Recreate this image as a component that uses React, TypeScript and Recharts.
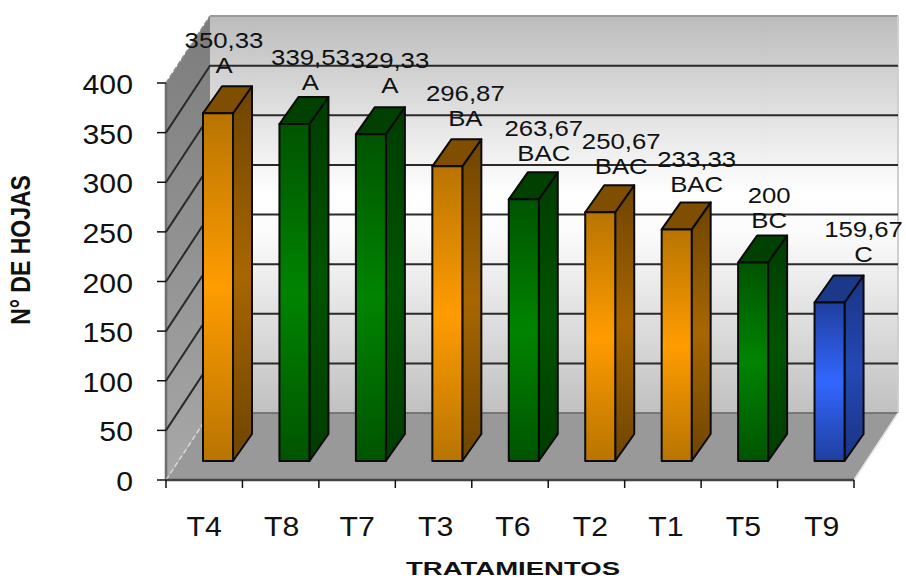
import { BarChart, Bar, XAxis, YAxis, CartesianGrid, LabelList } from 'recharts';

const tratamientos = ['T4', 'T8', 'T7', 'T3', 'T6', 'T2', 'T1', 'T5', 'T9'];
const hojas = [350.33, 339.53, 329.33, 296.87, 263.67, 250.67, 233.33, 200, 159.67];
const letras = ['A', 'A', 'A', 'BA', 'BAC', 'BAC', 'BAC', 'BC', 'C'];
const grupoColor = ['orange', 'green', 'green', 'orange', 'green', 'orange', 'orange', 'green', 'blue'];
const yTicks = [0, 50, 100, 150, 200, 250, 300, 350, 400];

// hand-placed data labels: shift from the bar centre, height above the bar top
const labelDx = [7, 17, 20, 19, 21, 22, 21, 17, 35];
const labelRise = [47, 41, 48, 47, 45, 45, 44, 42, 48];
const xTickDx = [0, 1, 0, 2, 3, 4, 3, 4, 6];

const WIDTH = 906;
const HEIGHT = 580;
const LEFT = 166;
const RIGHT = 854;
const TOP = 83;
const BOTTOM = 480;

// room depth (floor and walls) and how far the bars stand back from the front edge
const ROOM_DX = 44;
const ROOM_DY = -67;
const BAR_DX = 14;
const BAR_DY = -19;
const SIDE_DX = 19;
const SIDE_DY = -27;

// the whole drawing is slightly wider than tall
const STRETCH = 1.12;
const FONT = '"Liberation Sans", Arial, sans-serif';

const palette: Record<string, { edge: string; mid: string; side: string; sideMid: string; top: string }> = {
    orange: { edge: '#b87400', mid: '#ff9c00', side: '#6e4400', sideMid: '#a86600', top: '#7f4e00' },
    green: { edge: '#005400', mid: '#008400', side: '#003c00', sideMid: '#005400', top: '#004000' },
    blue: { edge: '#1f3f9e', mid: '#3366ff', side: '#1a3484', sideMid: '#2448b4', top: '#1c3888' },
};

// walls, floor and category ticks sit in their own svg behind the chart
const Room = () => {
    const ticks = tratamientos.map((_, i) => LEFT + (i * (RIGHT - LEFT)) / tratamientos.length);
    ticks.push(RIGHT);
    return (
        <svg width={WIDTH} height={HEIGHT} style={{ position: 'absolute', left: 0, top: 0 }}>
            <defs>
                <linearGradient id="wall" x1="0" y1="0" x2="0" y2="1">
                    <stop offset="0" stopColor="#bcbcbc" />
                    <stop offset="0.45" stopColor="#ffffff" />
                    <stop offset="0.55" stopColor="#fbfbfb" />
                    <stop offset="1" stopColor="#c0c0c0" />
                </linearGradient>
                <linearGradient id="sideWall" x1="0" y1="0" x2="0" y2="1">
                    <stop offset="0" stopColor="#7c7c7c" />
                    <stop offset="1" stopColor="#a8a8a8" />
                </linearGradient>
                {Object.entries(palette).map(([name, c]) => (
                    <g key={name}>
                        <linearGradient id={`face-${name}`} x1="0" y1="0" x2="0" y2="1">
                            <stop offset="0" stopColor={c.edge} />
                            <stop offset="0.5" stopColor={c.mid} />
                            <stop offset="1" stopColor={c.edge} />
                        </linearGradient>
                        <linearGradient id={`side-${name}`} x1="0" y1="0" x2="0" y2="1">
                            <stop offset="0" stopColor={c.side} />
                            <stop offset="0.5" stopColor={c.sideMid} />
                            <stop offset="1" stopColor={c.side} />
                        </linearGradient>
                    </g>
                ))}
            </defs>
            <polygon
                points={`${LEFT + ROOM_DX},${TOP + ROOM_DY} ${RIGHT + ROOM_DX},${TOP + ROOM_DY} ${RIGHT + ROOM_DX},${BOTTOM + ROOM_DY} ${LEFT + ROOM_DX},${BOTTOM + ROOM_DY}`}
                fill="url(#wall)"
            />
            <polygon
                points={`${LEFT},${BOTTOM} ${LEFT},${TOP} ${LEFT + ROOM_DX},${TOP + ROOM_DY} ${LEFT + ROOM_DX},${BOTTOM + ROOM_DY}`}
                fill="url(#sideWall)"
            />
            <polygon
                points={`${LEFT},${BOTTOM} ${RIGHT},${BOTTOM} ${RIGHT + ROOM_DX},${BOTTOM + ROOM_DY} ${LEFT + ROOM_DX},${BOTTOM + ROOM_DY}`}
                fill="#999999"
            />
            <line x1={LEFT + ROOM_DX} y1={TOP + ROOM_DY} x2={RIGHT + ROOM_DX} y2={TOP + ROOM_DY} stroke="#999999" strokeWidth={2} />
            <line x1={LEFT} y1={TOP} x2={LEFT + ROOM_DX} y2={TOP + ROOM_DY} stroke="#8c8c8c" strokeWidth={1.5} strokeDasharray="5 2" />
            <line x1={LEFT} y1={TOP} x2={LEFT} y2={BOTTOM} stroke="#6e6e6e" strokeWidth={2.5} />
            <line x1={RIGHT + ROOM_DX} y1={TOP + ROOM_DY} x2={RIGHT + ROOM_DX} y2={BOTTOM + ROOM_DY} stroke="#cfcfcf" strokeWidth={2} />
            <line x1={LEFT + ROOM_DX} y1={BOTTOM + ROOM_DY} x2={RIGHT + ROOM_DX} y2={BOTTOM + ROOM_DY} stroke="#666666" strokeWidth={1.5} />
            <line x1={LEFT} y1={BOTTOM} x2={LEFT + ROOM_DX} y2={BOTTOM + ROOM_DY} stroke="#d8d8d8" strokeWidth={1.5} strokeDasharray="5 3" />
            <line x1={RIGHT} y1={BOTTOM} x2={RIGHT + ROOM_DX} y2={BOTTOM + ROOM_DY} stroke="#e4e4e4" strokeWidth={1.5} />
            <line x1={LEFT} y1={BOTTOM} x2={RIGHT} y2={BOTTOM} stroke="#444444" strokeWidth={2.5} />
            {ticks.map((t) => (
                <line key={t} x1={t} y1={BOTTOM} x2={t} y2={BOTTOM + 8} stroke="#111111" strokeWidth={1.5} />
            ))}
        </svg>
    );
};

// each grid line runs up the side wall and then along the back wall
const GridLine = (props: any) => {
    const { x1, x2, y1 } = props;
    if (y1 >= BOTTOM - 1 || y1 <= TOP + 1) return <g key={y1} />;
    return (
        <polyline
            key={y1}
            points={`${x1},${y1} ${x1 + ROOM_DX},${y1 + ROOM_DY} ${x2 + ROOM_DX},${y1 + ROOM_DY}`}
            fill="none"
            stroke="#2a2a2a"
            strokeWidth={2}
        />
    );
};

const Bar3D = (props: any) => {
    const { x, y, width, height, index } = props;
    const name = grupoColor[index];
    const left = x + BAR_DX;
    const right = left + width;
    const top = y + BAR_DY;
    const bottom = top + height;
    const outline = { stroke: '#0a0a0a', strokeWidth: 2, strokeLinejoin: 'round' as const };
    return (
        <g>
            <polygon
                points={`${right},${top} ${right + SIDE_DX},${top + SIDE_DY} ${right + SIDE_DX},${bottom + SIDE_DY} ${right},${bottom}`}
                fill={`url(#side-${name})`}
                {...outline}
            />
            <polygon
                points={`${left},${top} ${left + SIDE_DX},${top + SIDE_DY} ${right + SIDE_DX},${top + SIDE_DY} ${right},${top}`}
                fill={palette[name].top}
                {...outline}
            />
            <rect x={left} y={top} width={width} height={height} fill={`url(#face-${name})`} {...outline} />
        </g>
    );
};

const DataLabel = (props: any) => {
    const { x, y, width, index, value } = props;
    const cx = x + BAR_DX + width / 2 + labelDx[index];
    const cy = y + BAR_DY - labelRise[index];
    const style = { fontFamily: FONT, fontSize: 23, fill: '#111111', textAnchor: 'middle' as const };
    return (
        <g>
            <text transform={`translate(${cx - 1},${cy - 18}) scale(${STRETCH},1)`} {...style}>
                {String(value).replace('.', ',')}
            </text>
            <text transform={`translate(${cx - 1},${cy + 7}) scale(${STRETCH},1)`} {...style}>
                {letras[index]}
            </text>
        </g>
    );
};

const YTick = (props: any) => (
    <text
        transform={`translate(${props.x},${props.y + 11}) scale(${STRETCH},1)`}
        textAnchor="end"
        fontFamily={FONT}
        fontSize={27}
        fill="#111111"
    >
        {props.payload.value}
    </text>
);

const XTick = (props: any) => (
    <text
        transform={`translate(${props.x + xTickDx[props.index]},${BOTTOM + 56}) scale(${STRETCH},1)`}
        textAnchor="middle"
        fontFamily={FONT}
        fontSize={27}
        fill="#111111"
    >
        {props.payload.value}
    </text>
);

export default function App() {
    const data = tratamientos.map((t, i) => ({ tratamiento: t, hojas: hojas[i] }));

    return (
        <div style={{ position: 'absolute', left: 0, top: 0, width: WIDTH, height: HEIGHT, background: '#fff' }}>
            <Room />
            <BarChart
                width={WIDTH}
                height={HEIGHT}
                data={data}
                barSize={30}
                margin={{ top: TOP, right: WIDTH - RIGHT, bottom: 0, left: 0 }}
            >
                <CartesianGrid vertical={false} horizontal={GridLine} stroke="#2a2a2a" />
                <XAxis
                    dataKey="tratamiento"
                    height={HEIGHT - BOTTOM}
                    axisLine={false}
                    tickLine={false}
                    tick={XTick}
                    interval={0}
                />
                <YAxis
                    width={LEFT}
                    domain={[0, 400]}
                    ticks={yTicks}
                    axisLine={false}
                    tickLine={{ stroke: '#111111', strokeWidth: 1.5 }}
                    tickSize={9}
                    tick={YTick}
                    tickMargin={24}
                    interval={0}
                />
                <Bar dataKey="hojas" shape={Bar3D} isAnimationActive={false}>
                    <LabelList dataKey="hojas" content={DataLabel} />
                </Bar>
                <text
                    transform={`translate(30,250) scale(1.2,1) rotate(-90)`}
                    textAnchor="middle"
                    fontFamily={FONT}
                    fontSize={23}
                    fontWeight="bold"
                    fill="#111111"
                >
                    N° DE HOJAS
                </text>
                <text x={513} y={575} textAnchor="middle" fontFamily={FONT} fontSize={19} fontWeight="bold" fill="#111111" textLength={214} lengthAdjust="spacingAndGlyphs">
                    TRATAMIENTOS
                </text>
            </BarChart>
        </div>
    );
}
